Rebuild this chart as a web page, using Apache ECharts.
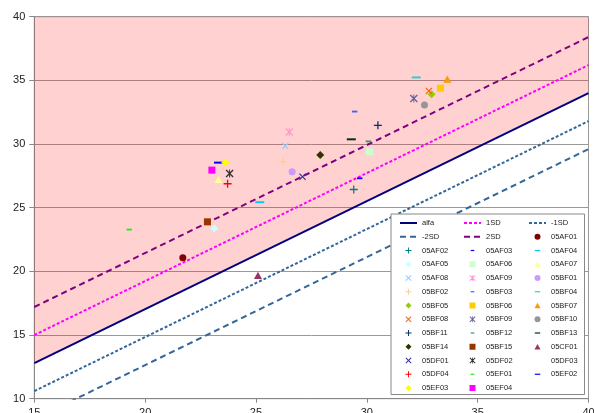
<!DOCTYPE html>
<html>
<head>
<meta charset="utf-8">
<script src="https://cdn.jsdelivr.net/npm/echarts@6/dist/echarts.min.js"></script>
<style>
  html, body { margin: 0; padding: 0; background: #fff; }
  #chart { width: 594px; height: 413px; }
</style>
</head>
<body>
<div id="chart"></div>
<script>
// Reference lines: value at x = 15 and at x = 40
const lineNames = ['alfa', '1SD', '-1SD', '-2SD', '2SD'];
const lineX = [15, 40];
const lineStartY = [12.8, 15.0, 10.6, 8.4, 17.2];
const lineEndY = [34.0, 36.2, 31.8, 29.6, 38.4];

// Samples (one point each; 05DF03 has no plotted value)
const sampleNames = [
  '05AF01', '05AF02', '05AF03', '05AF04', '05AF05', '05AF06', '05AF07', '05AF08', '05AF09',
  '05BF01', '05BF02', '05BF03', '05BF04', '05BF05', '05BF06', '05BF07', '05BF08', '05BF09',
  '05BF10', '05BF11', '05BF12', '05BF13', '05BF14', '05BF15', '05CF01', '05DF01', '05DF02',
  '05DF03', '05DF04', '05EF01', '05EF02', '05EF03', '05EF04'
];
const sampleX = [
  21.70, 29.41, 29.68, 25.17, 23.12, 30.12, 23.31, 26.32, 26.50,
  26.63, 26.21, 29.45, 32.23, 32.92, 33.32, 33.63, 32.80, 32.12,
  32.60, 30.50, 30.07, 29.30, 27.90, 22.81, 25.09, 27.10, 23.81,
  null, 23.72, 19.28, 23.31, 23.61, 23.01
];
const sampleY = [
  21.06, 26.43, 27.31, 25.43, 23.36, 29.40, 27.22, 29.84, 30.94,
  27.83, 28.60, 32.55, 35.23, 33.91, 34.39, 35.09, 34.17, 33.57,
  33.07, 31.47, 30.21, 30.37, 29.13, 23.89, 19.69, 27.43, 27.69,
  null, 26.88, 23.28, 28.54, 28.54, 27.95
];

// Styling
const lineColors = ['#000080', '#FF00FF', '#336699', '#336699', '#800080'];
const lineDash = ['solid', [3, 2], [3, 2], [6, 4], [6, 4]];
const sampleColors = [
  '#800000', '#008080', '#0000FF', '#00CCFF', '#CCFFFF', '#CCFFCC', '#FFFF99', '#99CCFF', '#FF99CC',
  '#CC99FF', '#FFCC99', '#3366FF', '#33CCCC', '#99CC00', '#FFCC00', '#FF9900', '#FF6600', '#666699',
  '#969696', '#003366', '#339966', '#003300', '#333300', '#993300', '#993366', '#333399', '#333333',
  '#FFFFFF', '#FF0000', '#00FF00', '#0000FF', '#FFFF00', '#FF00FF'
];
const markerCycle = ['diamond', 'square', 'triangle', 'cross', 'star', 'circle', 'plus', 'dash', 'longDash'];
const markerPath = {
  diamond: 'path://M5,0L10,5L5,10L0,5Z',
  square: 'path://M0,0H10V10H0Z',
  triangle: 'path://M0,0M10,10M5,0.5L10,9.5L0,9.5Z',
  cross: 'path://M0,1.2L1.2,0L5,3.8L8.8,0L10,1.2L6.2,5L10,8.8L8.8,10L5,6.2L1.2,10L0,8.8L3.8,5Z',
  star: 'path://M0,1.2L1.2,0L5,3.8L8.8,0L10,1.2L6.2,5L10,8.8L8.8,10L5,6.2L1.2,10L0,8.8L3.8,5Z M4.4,0H5.6V10H4.4Z',
  circle: 'circle',
  plus: 'path://M4.2,0H5.8V4.2H10V5.8H5.8V10H4.2V5.8H0V4.2H4.2Z',
  dash: 'path://M0,0M10,10M2,4H8V6H2Z',
  longDash: 'path://M0,0M10,10M0.5,4H9.5V6H0.5Z'
};
const markerSize = { diamond: 8, square: 7, triangle: 8, cross: 7, star: 8, circle: 7, plus: 8, dash: 9, longDash: 10 };

const FONT = 'Liberation Sans, Arial, sans-serif';

const series = [];
lineNames.forEach(function (name, i) {
  const s = {
    type: 'line',
    name: name,
    data: [[lineX[0], lineStartY[i]], [lineX[1], lineEndY[i]]],
    symbol: 'none',
    clip: true,
    silent: true,
    lineStyle: { color: lineColors[i], width: 2, type: lineDash[i] },
    itemStyle: { color: lineColors[i] },
    z: 2
  };
  if (i === 0) {
    // shaded band above the alfa line
    s.areaStyle = { color: 'rgba(255,0,0,0.18)', origin: 'end', opacity: 1 };
  }
  series.push(s);
});
sampleNames.forEach(function (name, j) {
  const marker = markerCycle[(j + lineNames.length) % markerCycle.length];
  const pts = sampleX[j] === null ? [] : [[sampleX[j], sampleY[j]]];
  series.push({
    type: 'scatter',
    name: name,
    data: pts,
    symbol: markerPath[marker],
    symbolSize: markerSize[marker],
    itemStyle: { color: sampleColors[j], opacity: 1 },
    z: 3
  });
});

// Legend laid out in three columns, row-major order; line entries show only the stroke
const allNames = lineNames.concat(sampleNames);
const colLeft = [399, 463, 528];
const legends = colLeft.map(function (left, c) {
  return {
    orient: 'vertical',
    left: left,
    top: 219,
    padding: 0,
    itemWidth: 17,
    itemHeight: 6,
    itemGap: 5.75,
    selectedMode: false,
    z: 10,
    textStyle: { fontFamily: FONT, fontSize: 7.5, color: '#222', lineHeight: 8 },
    data: allNames
      .filter(function (n, k) { return k % 3 === c; })
      .map(function (n) {
        return lineNames.indexOf(n) >= 0 ? { name: n, itemStyle: { opacity: 0 } } : { name: n };
      })
  };
});

const chart = echarts.init(document.getElementById('chart'), null, { renderer: 'canvas' });
chart.setOption({
  animation: false,
  backgroundColor: '#fff',
  grid: {
    left: 34.3, right: 5.5, top: 16.7, bottom: 14.3,
    outerBoundsMode: 'none',
    containLabel: false,
    show: true, borderColor: '#999', borderWidth: 1, backgroundColor: 'transparent'
  },
  xAxis: {
    type: 'value', min: 15, max: 40, interval: 5,
    axisLine: { show: true, lineStyle: { color: '#888', width: 1 } },
    axisTick: { show: true, inside: false, length: 4, lineStyle: { color: '#888' } },
    axisLabel: { fontFamily: FONT, fontSize: 11, color: '#222', margin: 9 },
    splitLine: { show: false }
  },
  yAxis: {
    type: 'value', min: 10, max: 40, interval: 5,
    axisLine: { show: true, lineStyle: { color: '#888', width: 1 } },
    axisTick: { show: true, inside: false, length: 5, lineStyle: { color: '#888' } },
    axisLabel: { fontFamily: FONT, fontSize: 11, color: '#222', margin: 9 },
    splitLine: { show: true, lineStyle: { color: '#999', width: 1 } }
  },
  legend: legends,
  graphic: [{
    type: 'rect',
    z: 8,
    shape: { x: 391, y: 214, width: 193.5, height: 180.5 },
    style: { fill: '#fff', stroke: '#888', lineWidth: 1 }
  }],
  series: series
});
</script>
</body>
</html>
